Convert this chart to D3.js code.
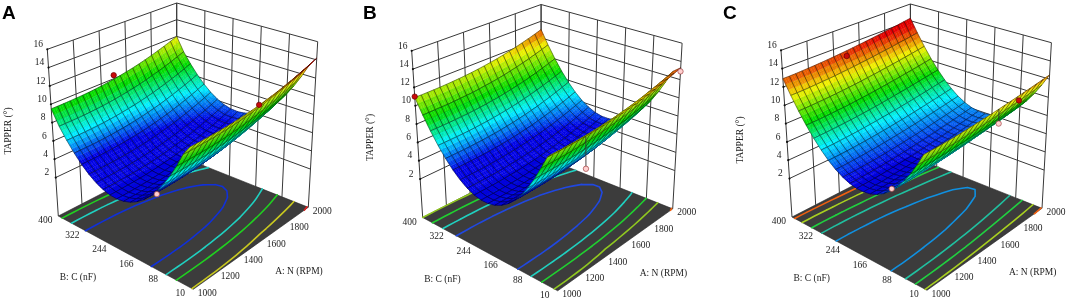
<!DOCTYPE html>
<html><head><meta charset="utf-8">
<script src="https://cdn.jsdelivr.net/npm/d3@7"></script>
<style>html,body{margin:0;padding:0;background:#fff;overflow:hidden}svg{display:block;filter:blur(0.3px)}</style>
</head><body><div id="chart"></div>
<script>
// ---- tick labels ----
const speedTicks = [1000, 1200, 1400, 1600, 1800, 2000];
const capTicks = [400, 322, 244, 166, 88, 10];
const taperTicks = [2, 4, 6, 8, 10, 12, 14, 16];
// ---- mesh positions ----
const speedMesh = [1000,1050,1100,1150,1200,1250,1300,1350,1400,1450,1500,1550,1600,1650,1700,1750,1800,1850,1900,1950,2000];
const capMesh = [10,29.5,49,68.5,88,107.5,127,146.5,166,185.5,205,224.5,244,263.5,283,302.5,322,341.5,361,380.5,400];
// ---- taper along C at N = 1000 ----
const taperAlongCapA = [11.7,10.7,9.25,7.96,6.82,5.83,5.0,4.3,3.75,3.35,3.1,3.0,3.05,3.27,3.64,4.18,4.87,5.73,6.75,7.93,9.5];
const taperAlongCapB = [11.2,10.6,9.2,7.83,6.62,5.59,4.73,4.04,3.53,3.19,3.02,3.03,3.2,3.56,4.09,4.79,5.66,6.71,7.93,9.32,10.9];
const taperAlongCapC = [11.06,9.74,8.56,7.54,6.66,5.93,5.35,4.92,4.64,4.51,4.53,4.69,5.01,5.47,6.09,6.85,7.76,8.82,10.03,11.39,12.9];
// ---- rise of taper along N ----
const riseAlongSpeedA = [0,.001,.008,.022,.045,.078,.12,.18,.25,.34,.44,.56,.7,.85,1.02,1.22,1.43,1.67,1.92,2.2,2.5];
const riseAlongSpeedB = [0,0,.005,.015,.03,.057,.092,.137,.19,.26,.35,.44,.56,.68,.83,.99,1.18,1.38,1.6,1.84,2.1];
const riseAlongSpeedC = [0,.01,.02,.05,.08,.12,.16,.21,.27,.33,.4,.48,.56,.65,.74,.84,.94,1.05,1.16,1.28,1.4];
// ---- contour levels and their colours ----
const levelsA = [4.85, 6.8, 8.6, 11.5, 14];
const levelsB = [4.8, 6.7, 8.7, 10.9, 13.2];
const levelsC = [5.75, 7.4, 8.9, 10.7, 12.3];
const lineColorsA = ["#1030d8", "#20d0c0", "#20d020", "#c8c820", "#e02020"];
const lineColorsB = ["#2048e0", "#20d0c0", "#20d030", "#90c820", "#f06010"];
const lineColorsC = ["#1090e0", "#20c0a0", "#20d040", "#a8d020", "#f06010"];
// ---- colour ramp stops ----
const rampColors = ["#0000e6", "#00f0ff", "#00dc00", "#f0f000", "#e60000"];
const rampA = [5, 7, 9.3, 11.9, 13.8];
const rampB = [4.7, 6.8, 8.9, 11.5, 13.8];
const rampC = [4.8, 7, 9, 11.3, 13.6];
// ---- design points: N, C, taper ----
const designHighA = [[1500, 400, 10.4], [1550, 10, 12.3]];
const designLowA = [[1000, 108, 5.5]];
const designHighB = [[1000, 400, 11.0]];
const designLowB = [[2000, 10, 12.9], [1250, 10, 8.0]];
const designHighC = [[1500, 400, 12.7], [1760, 10, 11.4]];
const designLowC = [[1600, 10, 10.1], [1000, 104, 6.2]];

const W = 1072, H = 300;
const meshN = speedMesh.length, meshC = capMesh.length;
const svg = d3.select("#chart").append("svg").attr("width", W).attr("height", H);
const serif = "'Liberation Serif','Times New Roman',serif";

// box corners on screen (panel frame)
const floorBox = {L:[58.3,216], F:[193.3,289.3], R:[308.3,207.3], B:[176.7,155]};
const topBox = {L:[47.3,49.3], F:[189,103], R:[317.7,41.7], B:[176.7,3]};
const speedScale = d3.scaleLinear([1000,2000],[0,1]);
const capScale = d3.scaleLinear([400,10],[0,1]);
const taperScale = d3.scaleLinear([-2.2,16],[0,1]);
const bil = (b,u,v,k) => (1-u)*(1-v)*b.L[k] + (1-u)*v*b.F[k] + u*(1-v)*b.B[k] + u*v*b.R[k];
function project(n,c,z){
  const u=speedScale(n), v=capScale(c), w=taperScale(z);
  const p=k=>bil(floorBox,u,v,k)*(1-w)+bil(topBox,u,v,k)*w;
  return [p(0),p(1)];
}
const pathOf = pts => "M"+pts.map(p=>p[0].toFixed(2)+","+p[1].toFixed(2)).join("L")+"Z";

function drawPanel(cfg){
  const g = svg.append("g").attr("transform",`translate(${cfg.dx},${cfg.dy})`);
  const grid = speedMesh.map((_,i)=>capMesh.map((_,j)=>cfg.alongCap[j]+cfg.alongSpeed[i]));
  const color = d3.scaleLinear().domain(cfg.ramp).range(rampColors).clamp(true);

  // walls
  const wall = g.append("g").attr("fill","none").attr("stroke","#383838").attr("stroke-width",1);
  const ln = (a,b)=>wall.append("path").attr("d","M"+a+"L"+b);
  taperTicks.forEach(z=>{
    ln(project(1000,400,z),project(2000,400,z));
    ln(project(2000,400,z),project(2000,10,z));
    const t=project(1000,400,z);
    g.append("circle").attr("cx",t[0]).attr("cy",t[1]).attr("r",1.1).attr("fill","#111");
    g.append("text").attr("x",t[0]-9).attr("y",t[1]-5.3).text(z)
      .attr("text-anchor","middle").attr("dominant-baseline","central")
      .attr("font-family",serif).attr("font-size",9.5).attr("fill","#222");
  });
  speedTicks.forEach(n=>ln(project(n,400,-2.2),project(n,400,16)));
  capTicks.forEach(c=>ln(project(2000,c,-2.2),project(2000,c,16)));

  // floor
  g.append("path").attr("fill","#3c3c3c").attr("stroke","#222").attr("stroke-width",.6)
   .attr("d",pathOf([project(1000,400,-2.2),project(1000,10,-2.2),project(2000,10,-2.2),project(2000,400,-2.2)]));

  // contours on the floor
  const flat=[];
  for(let j=0;j<meshC;j++) for(let i=0;i<meshN;i++) flat.push(grid[i][j]);
  const cont = d3.contours().size([meshN,meshC]).smooth(true);
  const xToSpeed = d3.scaleLinear([.5,meshN-.5],[1000,2000]).clamp(true);
  const yToCap = d3.scaleLinear([.5,meshC-.5],[10,400]).clamp(true);
  const onRim = p=>p[0]<=0||p[0]>=meshN||p[1]<=0||p[1]>=meshC;
  cfg.levels.forEach((level,li)=>{
    let d="";
    cont.contour(flat,level).coordinates.forEach(poly=>poly.forEach(ring=>{
      for(let k=1;k<ring.length;k++){
        if(onRim(ring[k-1])||onRim(ring[k])) continue;
        const a=project(xToSpeed(ring[k-1][0]),yToCap(ring[k-1][1]),-2.2);
        const b=project(xToSpeed(ring[k][0]),yToCap(ring[k][1]),-2.2);
        d+="M"+a[0].toFixed(2)+","+a[1].toFixed(2)+"L"+b[0].toFixed(2)+","+b[1].toFixed(2);
      }
    }));
    g.append("path").attr("d",d).attr("fill","none").attr("stroke",cfg.lineColors[li])
     .attr("stroke-width",1.6).attr("stroke-linecap","round");
  });

  // surface, painted far to near
  const cells=[];
  for(let i=0;i<meshN-1;i++) for(let j=0;j<meshC-1;j++) cells.push([i,j]);
  cells.sort((a,b)=>(b[0]+b[1])-(a[0]+a[1]));
  const SUB=3, items=[];
  cells.forEach(([i,j])=>{
    const nA=speedMesh[i],nB=speedMesh[i+1],cA=capMesh[j],cB=capMesh[j+1];
    const z00=grid[i][j],z10=grid[i+1][j],z01=grid[i][j+1],z11=grid[i+1][j+1];
    const at=(s,t)=>{
      const z=(1-s)*(1-t)*z00+s*(1-t)*z10+(1-s)*t*z01+s*t*z11;
      return {z,p:project(nA+(nB-nA)*s,cA+(cB-cA)*t,z)};
    };
    for(let a=0;a<SUB;a++) for(let b=0;b<SUB;b++){
      const q=[at(a/SUB,b/SUB),at((a+1)/SUB,b/SUB),at((a+1)/SUB,(b+1)/SUB),at(a/SUB,(b+1)/SUB)];
      const c=color(d3.mean(q,o=>o.z));
      items.push({d:pathOf(q.map(o=>o.p)),fill:c,stroke:c,w:.35,op:1});
    }
    items.push({d:pathOf([project(nA,cA,z00),project(nB,cA,z10),project(nB,cB,z11),project(nA,cB,z01)]),
      fill:"none",stroke:"#000",w:.65,op:.62});
  });
  g.append("g").selectAll("path").data(items).join("path")
    .attr("d",d=>d.d).attr("fill",d=>d.fill).attr("stroke",d=>d.stroke)
    .attr("stroke-width",d=>d.w).attr("stroke-opacity",d=>d.op);

  // design points
  const surfaceAt=(n,c)=>grid[d3.bisectCenter(speedMesh,n)][d3.bisectCenter(capMesh,c)];
  const dot=(pt,fill,edge,stem)=>{
    const p=project(pt[0],pt[1],pt[2]), top=project(pt[0],pt[1],surfaceAt(pt[0],pt[1]));
    if(stem) g.append("path").attr("d","M"+p+"L"+top).attr("stroke","#333").attr("stroke-width",.9);
    g.append("circle").attr("cx",p[0]).attr("cy",p[1]).attr("r",2.7).attr("fill",fill).attr("stroke",edge).attr("stroke-width",.7);
  };
  cfg.high.forEach(pt=>dot(pt,"#c80a0a","#6a0000",false));
  cfg.low.forEach(pt=>dot(pt,"#ffd0d0","#a04040",true));

  // axis labels
  const tick=(x,y,s,anchor)=>g.append("text").attr("x",x).attr("y",y).text(s)
    .attr("text-anchor",anchor||"middle").attr("dominant-baseline","central")
    .attr("font-family",serif).attr("font-size",9.5).attr("fill","#222");
  capTicks.forEach(c=>{const p=project(1000,c,-2.2);tick(p[0]-13,p[1]+4,c);});
  speedTicks.forEach(n=>{const p=project(n,10,-2.2);tick(p[0]+14,p[1]+3.5,n);});
  tick(78,277,"B: C (nF)");
  tick(299,271,"A: N (RPM)");
  g.append("text").attr("transform",`translate(${cfg.titleX},${cfg.titleY}) rotate(-90)`).text("TAPPER (°)")
    .attr("text-anchor","middle").attr("dominant-baseline","central")
    .attr("font-family",serif).attr("font-size",9.5).attr("fill","#222");
  svg.append("text").attr("x",cfg.letterX).attr("y",18.5).text(cfg.letter)
    .attr("font-family","'Liberation Sans',Arial,sans-serif").attr("font-weight",700)
    .attr("font-size",19).attr("fill","#000");
}

drawPanel({letter:"A",letterX:2,dx:0,dy:0,titleX:7.5,titleY:131,alongCap:taperAlongCapA,alongSpeed:riseAlongSpeedA,levels:levelsA,lineColors:lineColorsA,ramp:rampA,high:designHighA,low:designLowA});
drawPanel({letter:"B",letterX:363,dx:364.4,dy:1.5,titleX:5.6,titleY:136,alongCap:taperAlongCapB,alongSpeed:riseAlongSpeedB,levels:levelsB,lineColors:lineColorsB,ramp:rampB,high:designHighB,low:designLowB});
drawPanel({letter:"C",letterX:723,dx:733.7,dy:1,titleX:6.7,titleY:139,alongCap:taperAlongCapC,alongSpeed:riseAlongSpeedC,levels:levelsC,lineColors:lineColorsC,ramp:rampC,high:designHighC,low:designLowC});
</script></body></html>
